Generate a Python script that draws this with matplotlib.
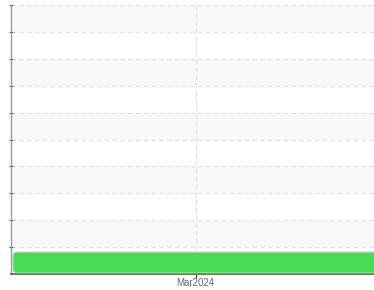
import matplotlib
matplotlib.use("Agg")
import matplotlib.pyplot as plt
import matplotlib.dates as mdates
from matplotlib.patches import FancyBboxPatch
import datetime as dt

# --- Data ---
rows = list(range(10))           # row slots on the y axis
task_row = 0                     # the single task sits in the bottom row
task_start = dt.datetime(2024, 2, 1, 8)
task_end = dt.datetime(2024, 4, 10)
x_min = dt.datetime(2024, 2, 1)
x_max = dt.datetime(2024, 3, 29)
tick_dates = [dt.datetime(2024, 3, 1)]
tick_labels = ["Mar2024"]

# --- Figure ---
fig = plt.figure(figsize=(3.74, 2.9), dpi=100)
ax = fig.add_axes([11 / 374, 16 / 290, 1 - 11 / 374, 269 / 290])

# alternating row bands
for r in rows:
    if r % 2 == 1:
        ax.axhspan(r, r + 1, color="#f8f8f8", zorder=0, lw=0)
    ax.axhline(r + 1, color="#e0e0e0", lw=0.8, ls=(0, (4, 3)), zorder=1)

# vertical grid at date ticks
for d in tick_dates:
    ax.axvline(mdates.date2num(d), color="#e0e0e0", lw=0.8, ls=(0, (4, 3)), zorder=1)

# task bar
x0 = mdates.date2num(task_start)
x1 = mdates.date2num(task_end)
bar = FancyBboxPatch((x0, task_row + 0.05), x1 - x0, 0.76,
                     boxstyle="round,pad=0,rounding_size=0.6",
                     mutation_aspect=0.24,
                     facecolor="#48db55", edgecolor="#7ee987", lw=0.8, zorder=3)
ax.add_patch(bar)

ax.set_xlim(mdates.date2num(x_min), mdates.date2num(x_max))
ax.set_ylim(0, len(rows))

ax.set_xticks([mdates.date2num(d) for d in tick_dates])
ax.set_xticklabels(tick_labels, fontsize=7, color="#666666",
                   family="Liberation Sans")
ax.set_yticks([r + 1 for r in rows[:-1]] + [len(rows)])
ax.set_yticklabels([])

ax.tick_params(axis="x", length=3, width=0.8, color="#333333", pad=0)
ax.tick_params(axis="y", length=3, width=0.8, color="#555555", direction="inout")

for s in ["top", "right"]:
    ax.spines[s].set_visible(False)
ax.spines["left"].set_color("#999999")
ax.spines["left"].set_linewidth(1.0)
ax.spines["bottom"].set_color("#777777")
ax.spines["bottom"].set_linewidth(1.5)

plt.savefig("out.png", dpi=100)
